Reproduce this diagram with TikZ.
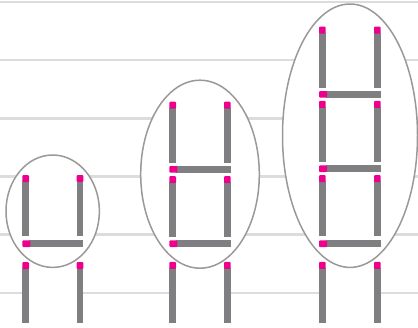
\documentclass[tikz,border=0pt]{standalone}
\definecolor{stickgray}{HTML}{7F7F82}
\definecolor{stickpink}{HTML}{EC008C}
\definecolor{ringgray}{HTML}{999999}
\definecolor{rulegray}{HTML}{DCDCDC}
\newcommand{\vstk}[2]{%
  \fill[stickgray] (#1,#2+6) rectangle (#1+6.7,#2+61);
  \fill[stickpink,rounded corners=1pt] (#1,#2) rectangle (#1+6.7,#2+7);
}
\newcommand{\hstk}[3]{%
  \fill[stickgray] (#1+7,#3) rectangle (#2,#3+6.7);
  \fill[stickpink,rounded corners=1pt] (#1,#3) rectangle (#1+8,#3+6.7);
}
\tikzset{ring/.style={draw=ringgray,line width=1.5pt,fill=white},
  rule/.style={draw=rulegray,line width=2.5pt}}
\begin{document}
\begin{tikzpicture}[x=1pt,y=-1pt]
\useasboundingbox (0,0) rectangle (418,327);
% background rules
\foreach \k in {0,...,5} {\draw[rule] (0,{2+58.15*\k}) -- (418,{2+58.15*\k});}
% ellipses
\path[ring] (52.7,211.2) ellipse [x radius=46.7, y radius=56.2];
\path[ring] (200,174.2) ellipse [x radius=59.3, y radius=94];
\path[ring] (350,135.7) ellipse [x radius=67.5, y radius=131.7];
% hide rules between bottom sticks
\fill[white] (29,286) rectangle (76.7,300);
\fill[white] (176,286) rectangle (224,300);
\fill[white] (325.7,286) rectangle (374,300);
% group 1
\vstk{22.3}{175} \vstk{76.7}{175}
\hstk{22.3}{83.4}{240.3}
\vstk{22.3}{262} \vstk{76.7}{262}
% group 2
\vstk{169.3}{101.7} \vstk{224}{101.7}
\hstk{169.3}{230.7}{166}
\vstk{169.3}{176} \vstk{224}{176}
\hstk{169.3}{230.7}{240.3}
\vstk{169.3}{261.8} \vstk{224}{261.8}
% group 3
\vstk{319}{26.7} \vstk{374}{26.7}
\hstk{319}{380.7}{91}
\vstk{319}{100.8} \vstk{374}{100.8}
\hstk{319}{380.7}{165.4}
\vstk{319}{175} \vstk{374}{175}
\hstk{319}{380.7}{240.3}
\vstk{319}{261.8} \vstk{374}{261.8}
\end{tikzpicture}
\end{document}
